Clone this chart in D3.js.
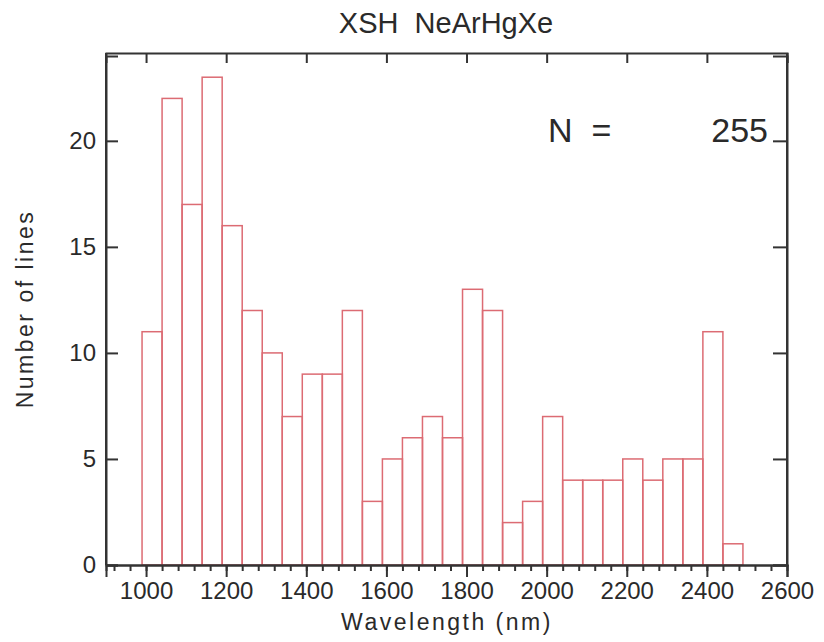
<!DOCTYPE html>
<html>
<head>
<meta charset="utf-8">
<script src="https://cdn.jsdelivr.net/npm/d3@7"></script>
<style>
  html, body { margin: 0; padding: 0; background: #fff; }
  svg { display: block; }
  text { font-family: "Liberation Sans", Arial, sans-serif; fill: #2a2a2a; }
</style>
</head>
<body>
<svg id="chart" width="824" height="642"></svg>
<script>
// ---- data ----
const title = "XSH  NeArHgXe";
const xLabel = "Wavelength (nm)";
const yLabel = "Number of lines";
const binStarts = [990, 1040, 1090, 1140, 1190, 1240, 1290, 1340, 1390, 1440,
                   1490, 1540, 1590, 1640, 1690, 1740, 1790, 1840, 1890, 1940,
                   1990, 2040, 2090, 2140, 2190, 2240, 2290, 2340, 2390, 2440];
const binWidth = 50;
const counts = [11, 22, 17, 23, 16, 12, 10, 7, 9, 9,
                12, 3, 5, 6, 7, 6, 13, 12, 2, 3,
                7, 4, 4, 4, 5, 4, 5, 5, 11, 1];
const xTickValues = [1000, 1200, 1400, 1600, 1800, 2000, 2200, 2400, 2600];
const yTickValues = [0, 5, 10, 15, 20];
const xDomain = [900, 2600];
const yDomain = [0, 24];
const nTotal = 255;

// ---- layout ----
const svg = d3.select("#chart");
const L = 106, R = 787, T = 53, B = 565;
const x = d3.scaleLinear().domain(xDomain).range([L, R]);
const y = d3.scaleLinear().domain(yDomain).range([B, 56]);
const axisColor = "#333";
const barColor = "#dc6b73";

// bars
svg.append("g").selectAll("rect")
  .data(counts)
  .join("rect")
  .attr("x", (d, i) => x(binStarts[i]))
  .attr("width", (d, i) => x(binStarts[i] + binWidth) - x(binStarts[i]))
  .attr("y", d => y(d))
  .attr("height", d => y(0) - y(d))
  .attr("fill", "none")
  .attr("stroke", barColor)
  .attr("stroke-width", 1.5);

function styleAxis(g) {
  g.selectAll("path.domain").attr("stroke", axisColor).attr("stroke-width", 2);
  g.selectAll(".tick line").attr("stroke", axisColor).attr("stroke-width", 2);
  g.selectAll(".tick text").attr("font-size", 24).attr("fill", "#2a2a2a")
    .attr("font-family", "'Liberation Sans', Arial, sans-serif");
}
// minor x ticks
svg.append("g").attr("transform", `translate(0,${B})`)
  .call(d3.axisBottom(x).tickValues(d3.range(920, 2600, 40)).tickSize(6).tickFormat(""))
  .call(styleAxis);
svg.append("g").attr("transform", `translate(0,${B})`)
  .call(d3.axisBottom(x).tickValues(xTickValues).tickSize(12).tickPadding(5).tickFormat(d3.format("d")))
  .call(styleAxis);
// top frame
svg.append("g").attr("transform", `translate(0,${T})`)
  .call(d3.axisTop(x).tickValues(xTickValues).tickSize(-10).tickFormat(""))
  .call(styleAxis);
// left axis
svg.append("g").attr("transform", `translate(${L},0)`)
  .call(d3.axisLeft(y).tickValues(yTickValues).tickSize(-12).tickPadding(10).tickFormat(d3.format("d")))
  .call(styleAxis);
svg.append("line").attr("x1", L).attr("x2", L).attr("y1", T).attr("y2", B)
  .attr("stroke", axisColor).attr("stroke-width", 2);
// right frame
svg.append("g").attr("transform", `translate(${R},0)`)
  .call(d3.axisRight(y).tickValues(yTickValues).tickSize(-14).tickFormat(""))
  .call(styleAxis);
svg.append("line").attr("x1", R).attr("x2", R).attr("y1", T).attr("y2", B)
  .attr("stroke", axisColor).attr("stroke-width", 2);

// title
svg.append("text").attr("x", 446).attr("y", 33).attr("text-anchor", "middle")
  .attr("font-size", 29).style("white-space", "pre").text(title);
// axis labels
svg.append("text").attr("x", 447).attr("y", 630).attr("text-anchor", "middle")
  .attr("font-size", 23).attr("letter-spacing", 2.5).text(xLabel);
svg.append("text").attr("transform", "translate(33,309) rotate(-90)").attr("text-anchor", "middle")
  .attr("font-size", 23).attr("letter-spacing", 2.5).text(yLabel);
// N label
svg.append("text").attr("x", 548).attr("y", 142).attr("font-size", 34).style("white-space", "pre").text("N  =");
svg.append("text").attr("x", 768).attr("y", 142).attr("text-anchor", "end").attr("font-size", 34).text(nTotal);
</script>
</body>
</html>
